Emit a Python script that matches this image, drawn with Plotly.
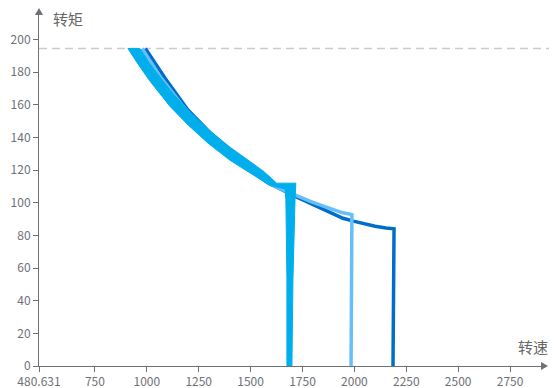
import plotly.graph_objects as go

# 速度范围与参考线
speed_min = 480.631
speed_max = 2899
torque_max = 215
torque_limit = 194.5

x_ticks = [480.631, 750, 1000, 1250, 1500, 1750, 2000, 2250, 2500, 2750]
x_tick_text = ["480.631", "750", "1000", "1250", "1500", "1750", "2000", "2250", "2500", "2750"]
y_ticks = [0, 20, 40, 60, 80, 100, 120, 140, 160, 180, 200]

# 曲线A（带状，上沿 + 下沿）
a_upper_speed = [967, 1010, 1063, 1125, 1193, 1300, 1401, 1497, 1560, 1600, 1625, 1718, 1714, 1704, 1699]
a_upper_torque = [194.5, 186, 177, 167, 157.5, 144.5, 134, 125, 119.5, 115, 112, 112, 102, 53, 0]
a_lower_speed = [1675, 1675, 1670, 1666, 1593, 1497, 1401, 1295, 1200, 1112, 1060, 1015, 960, 909]
a_lower_torque = [0, 53, 102, 108.5, 110.6, 118.4, 126, 136.5, 147.5, 159, 167, 174.5, 184.5, 194.5]

# 曲线B
b_speed = [977, 1063, 1169, 1260, 1353, 1497, 1584, 1666, 1718, 1800, 1882, 1940, 1988, 1984]
b_torque = [194.5, 177.5, 160, 146.5, 134, 120, 112, 107.3, 104.5, 100.2, 96.5, 94, 92.7, 0]

# 曲线C
c_speed = [993, 1088, 1198, 1304, 1449, 1593, 1718, 1820, 1945, 2000, 2051, 2100, 2152, 2191, 2186]
c_torque = [194.5, 176.3, 156.8, 143, 127, 111.6, 103.7, 98, 90.5, 88.6, 87, 85.6, 84.5, 84, 0]

COLORS = {"a": "#00AEEB", "b": "#66BFFA", "c": "#006EC8"}
FONT = "Noto Sans CJK SC, Noto Sans, sans-serif"
AXIS_COLOR = "#6E7079"

fig = go.Figure()

fig.add_trace(go.Scatter(
    x=c_speed, y=c_torque, mode="lines",
    line=dict(color=COLORS["c"], width=3.5),
    showlegend=False, hoverinfo="skip"
))
fig.add_trace(go.Scatter(
    x=b_speed, y=b_torque, mode="lines",
    line=dict(color=COLORS["b"], width=3.5),
    showlegend=False, hoverinfo="skip"
))
fig.add_trace(go.Scatter(
    x=a_upper_speed + a_lower_speed + a_upper_speed[:1],
    y=a_upper_torque + a_lower_torque + a_upper_torque[:1],
    mode="lines", fill="toself", fillcolor=COLORS["a"],
    line=dict(color=COLORS["a"], width=1),
    showlegend=False, hoverinfo="skip"
))

# 额定转矩虚线
fig.add_shape(
    type="line", xref="paper", yref="y",
    x0=0, x1=1.035, y0=torque_limit, y1=torque_limit,
    line=dict(color="#CCCCCC", width=1.5, dash="8px,5px"),
    layer="below"
)

# 坐标轴箭头
fig.add_shape(
    type="path", xref="paper", yref="paper",
    xsizemode="pixel", ysizemode="pixel", xanchor=0, yanchor=1,
    path="M -4,0 L 4,0 L 0,7 Z",
    fillcolor=AXIS_COLOR, line=dict(width=0)
)
fig.add_shape(
    type="path", xref="paper", yref="paper",
    xsizemode="pixel", ysizemode="pixel", xanchor=1, yanchor=0,
    path="M 0,-4 L 0,4 L 7,0 Z",
    fillcolor=AXIS_COLOR, line=dict(width=0)
)

fig.add_annotation(
    text="转矩", xref="paper", yref="paper", x=0, y=1,
    xanchor="left", yanchor="middle", xshift=12, yshift=-3,
    showarrow=False, font=dict(family=FONT, size=15, color="#666666")
)
fig.add_annotation(
    text="转速", xref="paper", yref="paper", x=1, y=0,
    xanchor="right", yanchor="middle", xshift=9, yshift=20,
    showarrow=False, font=dict(family=FONT, size=15, color="#666666")
)

# 页面 body 默认有 8px 外边距，尺寸与边距相应缩小
fig.update_layout(
    width=549, height=380,
    margin=dict(l=31, r=16, t=7, b=22),
    paper_bgcolor="white", plot_bgcolor="white",
    font=dict(family=FONT, size=12, color=AXIS_COLOR),
    showlegend=False,
    xaxis=dict(
        range=[speed_min, speed_max], tickvals=x_ticks, ticktext=x_tick_text,
        showgrid=False, zeroline=False, showline=True, linecolor=AXIS_COLOR, linewidth=1,
        ticks="outside", ticklen=5, tickcolor=AXIS_COLOR,
        tickfont=dict(family=FONT, size=12, color=AXIS_COLOR), automargin=False
    ),
    yaxis=dict(
        range=[0, torque_max], tickvals=y_ticks,
        showgrid=False, zeroline=False, showline=True, linecolor=AXIS_COLOR, linewidth=1,
        ticks="outside", ticklen=5, tickcolor=AXIS_COLOR,
        tickfont=dict(family=FONT, size=12, color=AXIS_COLOR), automargin=False
    ),
)

fig.write_html("out.html")
